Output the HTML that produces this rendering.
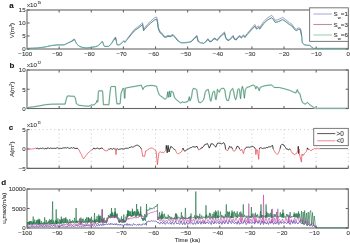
<!DOCTYPE html><html><head><meta charset="utf-8"><style>html,body{margin:0;padding:0;background:#fff;overflow:hidden;}svg{display:block;will-change:transform;} text{font-family:"Liberation Sans",sans-serif;stroke:#555;stroke-width:0.12px;paint-order:stroke;}</style></head><body>
<svg width="350" height="243" viewBox="0 0 350 243" xmlns="http://www.w3.org/2000/svg">
<rect x="27.0" y="10.0" width="321.30" height="39.00" fill="none" stroke="#666" stroke-width="1.1"/>
<line x1="59.13" y1="49.00" x2="59.13" y2="46.40" stroke="#666" stroke-width="1.1" />
<line x1="59.13" y1="10.00" x2="59.13" y2="12.60" stroke="#666" stroke-width="1.1" />
<line x1="91.26" y1="49.00" x2="91.26" y2="46.40" stroke="#666" stroke-width="1.1" />
<line x1="91.26" y1="10.00" x2="91.26" y2="12.60" stroke="#666" stroke-width="1.1" />
<line x1="123.39" y1="49.00" x2="123.39" y2="46.40" stroke="#666" stroke-width="1.1" />
<line x1="123.39" y1="10.00" x2="123.39" y2="12.60" stroke="#666" stroke-width="1.1" />
<line x1="155.52" y1="49.00" x2="155.52" y2="46.40" stroke="#666" stroke-width="1.1" />
<line x1="155.52" y1="10.00" x2="155.52" y2="12.60" stroke="#666" stroke-width="1.1" />
<line x1="187.65" y1="49.00" x2="187.65" y2="46.40" stroke="#666" stroke-width="1.1" />
<line x1="187.65" y1="10.00" x2="187.65" y2="12.60" stroke="#666" stroke-width="1.1" />
<line x1="219.78" y1="49.00" x2="219.78" y2="46.40" stroke="#666" stroke-width="1.1" />
<line x1="219.78" y1="10.00" x2="219.78" y2="12.60" stroke="#666" stroke-width="1.1" />
<line x1="251.91" y1="49.00" x2="251.91" y2="46.40" stroke="#666" stroke-width="1.1" />
<line x1="251.91" y1="10.00" x2="251.91" y2="12.60" stroke="#666" stroke-width="1.1" />
<line x1="284.04" y1="49.00" x2="284.04" y2="46.40" stroke="#666" stroke-width="1.1" />
<line x1="284.04" y1="10.00" x2="284.04" y2="12.60" stroke="#666" stroke-width="1.1" />
<line x1="316.17" y1="49.00" x2="316.17" y2="46.40" stroke="#666" stroke-width="1.1" />
<line x1="316.17" y1="10.00" x2="316.17" y2="12.60" stroke="#666" stroke-width="1.1" />
<polyline points="27.00,48.40 37.30,47.98 45.60,46.84 51.70,45.38 57.90,44.76 64.10,44.76 67.20,43.19 71.30,41.11 74.40,38.93 76.40,43.19 78.90,46.01 82.60,47.46 86.70,47.98 90.80,47.46 95.00,46.73 97.70,45.90 100.50,43.30 102.40,41.01 103.70,44.86 104.50,46.32 108.90,46.32 111.70,42.99 113.40,39.97 115.50,36.95 116.30,40.70 117.00,44.55 118.60,44.86 120.50,44.03 122.10,42.36 123.80,40.49 124.90,42.15 127.90,37.89 131.00,33.72 134.40,29.45 138.00,26.64 141.00,24.25 142.60,22.69 143.60,29.25 146.00,25.91 150.90,20.81 155.00,17.38 156.70,17.07 157.50,20.40 158.30,27.27 160.00,31.54 161.60,32.58 164.00,36.01 165.80,36.53 168.00,35.39 170.10,35.80 173.00,34.35 175.20,36.84 178.10,40.59 180.90,42.47 183.80,42.57 188.10,42.15 191.00,41.43 193.90,38.41 196.80,35.39 198.20,41.11 200.50,42.47 203.60,43.09 206.00,41.22 207.90,38.61 209.70,41.22 211.60,40.90 214.00,37.99 215.90,38.61 217.10,39.97 219.00,37.37 221.50,34.76 224.50,31.95 225.80,37.37 227.00,39.24 228.90,39.97 230.70,37.99 233.20,35.39 234.40,38.61 236.30,39.24 237.50,37.26 239.90,35.39 241.20,37.26 243.60,34.76 244.90,36.64 247.30,33.41 251.00,28.93 254.80,24.46 256.60,27.68 258.50,25.71 259.70,27.68 263.40,21.96 267.10,18.11 271.70,15.30 273.40,17.38 275.10,20.29 278.00,19.77 282.60,17.38 286.00,19.77 289.40,22.69 291.70,23.94 294.60,28.10 296.30,29.25 298.60,27.79 300.50,28.52 301.70,35.49 302.30,42.57 304.20,44.55 307.30,45.17 309.80,45.17 311.60,47.15 313.50,48.40 348.00,48.40" fill="none" stroke="#6870b8" stroke-width="0.65" stroke-linejoin="round"/>
<polyline points="27.00,48.40 37.30,48.02 45.60,46.96 51.70,45.61 57.90,45.03 64.10,45.03 67.20,43.59 71.30,41.67 74.40,39.65 76.40,43.59 78.90,46.19 82.60,47.53 86.70,48.02 90.80,47.53 95.00,46.86 97.70,46.09 100.50,43.69 102.40,41.57 103.70,45.13 104.50,46.48 108.90,46.48 111.70,43.40 113.40,40.61 115.50,37.82 116.30,41.28 117.00,44.84 118.60,45.13 120.50,44.36 122.10,42.82 123.80,41.09 124.90,42.63 127.90,38.69 131.00,34.84 134.40,30.90 138.00,28.30 141.00,26.09 142.60,24.65 143.60,30.71 146.00,27.63 150.90,22.92 155.00,19.75 156.70,19.46 157.50,22.53 158.30,28.88 160.00,32.82 161.60,33.78 164.00,36.96 165.80,37.44 168.00,36.38 170.10,36.77 173.00,35.42 175.20,37.73 178.10,41.19 180.90,42.92 183.80,43.02 188.10,42.63 191.00,41.96 193.90,39.17 196.80,36.38 198.20,41.67 200.50,42.92 203.60,43.50 206.00,41.77 207.90,39.36 209.70,41.77 211.60,41.48 214.00,38.78 215.90,39.36 217.10,40.61 219.00,38.21 221.50,35.80 224.50,33.21 225.80,38.21 227.00,39.94 228.90,40.61 230.70,38.78 233.20,36.38 234.40,39.36 236.30,39.94 237.50,38.11 239.90,36.38 241.20,38.11 243.60,35.80 244.90,37.53 247.30,34.55 251.00,30.42 254.80,26.28 256.60,29.27 258.50,27.44 259.70,29.27 263.40,23.98 267.10,20.42 271.70,17.82 273.40,19.75 275.10,22.44 278.00,21.96 282.60,19.75 286.00,21.96 289.40,24.65 291.70,25.80 294.60,29.65 296.30,30.71 298.60,29.36 300.50,30.03 301.70,36.48 302.30,43.02 304.20,44.84 307.30,45.42 309.80,45.42 311.60,47.25 313.50,48.40 348.00,48.40" fill="none" stroke="#58ac92" stroke-width="0.85" stroke-linejoin="round"/>
<polyline points="71.30,41.60 74.40,39.56" fill="none" stroke="#3a3a4a" stroke-opacity="0.75" stroke-width="0.45" stroke-linejoin="round"/>
<polyline points="113.40,40.53 115.50,37.71 116.30,41.21" fill="none" stroke="#3a3a4a" stroke-opacity="0.75" stroke-width="0.45" stroke-linejoin="round"/>
<polyline points="127.90,38.58 131.00,34.70 134.40,30.71 138.00,28.09 141.00,25.85 142.60,24.40 143.60,30.52 146.00,27.41 150.90,22.65 155.00,19.44 156.70,19.15 157.50,22.26 158.30,28.67 160.00,32.66 161.60,33.63 164.00,36.84 165.80,37.32 168.00,36.25 170.10,36.64 173.00,35.28 175.20,37.61 178.10,41.11" fill="none" stroke="#3a3a4a" stroke-opacity="0.75" stroke-width="0.45" stroke-linejoin="round"/>
<polyline points="191.00,41.89 193.90,39.07 196.80,36.25 198.20,41.60" fill="none" stroke="#3a3a4a" stroke-opacity="0.75" stroke-width="0.45" stroke-linejoin="round"/>
<polyline points="206.00,41.69 207.90,39.27 209.70,41.69 211.60,41.40 214.00,38.68 215.90,39.27 217.10,40.53 219.00,38.10 221.50,35.67 224.50,33.05 225.80,38.10 227.00,39.85 228.90,40.53 230.70,38.68 233.20,36.25 234.40,39.27 236.30,39.85 237.50,38.00 239.90,36.25 241.20,38.00 243.60,35.67 244.90,37.42 247.30,34.41 251.00,30.23 254.80,26.05 256.60,29.06 258.50,27.21 259.70,29.06 263.40,23.72 267.10,20.12 271.70,17.50 273.40,19.44 275.10,22.16 278.00,21.68 282.60,19.44 286.00,21.68 289.40,24.40 291.70,25.56 294.60,29.45 296.30,30.52 298.60,29.16 300.50,29.84 301.70,36.35" fill="none" stroke="#3a3a4a" stroke-opacity="0.75" stroke-width="0.45" stroke-linejoin="round"/>
<line x1="27.00" y1="49.00" x2="29.60" y2="49.00" stroke="#666" stroke-width="1.1" />
<line x1="348.30" y1="49.00" x2="345.70" y2="49.00" stroke="#666" stroke-width="1.1" />
<text x="25.60" y="51.45" font-size="6.1" text-anchor="end" fill="#3a3a3a">0</text>
<line x1="27.00" y1="36.00" x2="29.60" y2="36.00" stroke="#666" stroke-width="1.1" />
<line x1="348.30" y1="36.00" x2="345.70" y2="36.00" stroke="#666" stroke-width="1.1" />
<text x="25.60" y="38.45" font-size="6.1" text-anchor="end" fill="#3a3a3a">5</text>
<line x1="27.00" y1="23.00" x2="29.60" y2="23.00" stroke="#666" stroke-width="1.1" />
<line x1="348.30" y1="23.00" x2="345.70" y2="23.00" stroke="#666" stroke-width="1.1" />
<text x="25.60" y="25.45" font-size="6.1" text-anchor="end" fill="#3a3a3a">10</text>
<line x1="27.00" y1="10.00" x2="29.60" y2="10.00" stroke="#666" stroke-width="1.1" />
<line x1="348.30" y1="10.00" x2="345.70" y2="10.00" stroke="#666" stroke-width="1.1" />
<text x="25.60" y="12.45" font-size="6.1" text-anchor="end" fill="#3a3a3a">15</text>
<text x="27.00" y="56.00" font-size="6.1" text-anchor="middle" fill="#3a3a3a">100</text>
<text x="21.91" y="56.00" font-size="6.1" text-anchor="end" fill="#3a3a3a">−</text>
<text x="59.13" y="56.00" font-size="6.1" text-anchor="middle" fill="#3a3a3a">90</text>
<text x="55.74" y="56.00" font-size="6.1" text-anchor="end" fill="#3a3a3a">−</text>
<text x="91.26" y="56.00" font-size="6.1" text-anchor="middle" fill="#3a3a3a">80</text>
<text x="87.87" y="56.00" font-size="6.1" text-anchor="end" fill="#3a3a3a">−</text>
<text x="123.39" y="56.00" font-size="6.1" text-anchor="middle" fill="#3a3a3a">70</text>
<text x="120.00" y="56.00" font-size="6.1" text-anchor="end" fill="#3a3a3a">−</text>
<text x="155.52" y="56.00" font-size="6.1" text-anchor="middle" fill="#3a3a3a">60</text>
<text x="152.13" y="56.00" font-size="6.1" text-anchor="end" fill="#3a3a3a">−</text>
<text x="187.65" y="56.00" font-size="6.1" text-anchor="middle" fill="#3a3a3a">50</text>
<text x="184.26" y="56.00" font-size="6.1" text-anchor="end" fill="#3a3a3a">−</text>
<text x="219.78" y="56.00" font-size="6.1" text-anchor="middle" fill="#3a3a3a">40</text>
<text x="216.39" y="56.00" font-size="6.1" text-anchor="end" fill="#3a3a3a">−</text>
<text x="251.91" y="56.00" font-size="6.1" text-anchor="middle" fill="#3a3a3a">30</text>
<text x="248.52" y="56.00" font-size="6.1" text-anchor="end" fill="#3a3a3a">−</text>
<text x="286.04" y="56.00" font-size="6.1" text-anchor="middle" fill="#3a3a3a">20</text>
<text x="282.65" y="56.00" font-size="6.1" text-anchor="end" fill="#3a3a3a">−</text>
<text x="318.17" y="56.00" font-size="6.1" text-anchor="middle" fill="#3a3a3a">10</text>
<text x="314.78" y="56.00" font-size="6.1" text-anchor="end" fill="#3a3a3a">−</text>
<text x="348.30" y="56.00" font-size="6.1" text-anchor="middle" fill="#3a3a3a">0</text>
<text x="27.0" y="7.40" font-size="6.2" fill="#3a3a3a">x10<tspan dy="-3.2" dx="0.4" font-size="3.4">15</tspan></text>
<text x="9.2" y="7.5" font-size="8.0" font-weight="bold" fill="#111">a</text>
<text transform="translate(14.3,30.6) rotate(-90)" font-size="6.1" text-anchor="middle" fill="#3a3a3a">V(m<tspan dy="-2" font-size="3.8">3</tspan><tspan dy="2">)</tspan></text>
<rect x="309.6" y="7.8" width="38.7" height="33.6" fill="#fff" stroke="#7a7a7a" stroke-width="1.0"/>
<line x1="313.40" y1="14.00" x2="331.90" y2="14.00" stroke="#a9b0da" stroke-width="1.1" />
<text x="333.5" y="16.2" font-size="6.2" fill="#3a3a3a">S<tspan dy="2.4" font-size="4.2">w</tspan><tspan dy="-2.4" dx="0.2">=</tspan>1</text>
<line x1="313.40" y1="24.50" x2="331.90" y2="24.50" stroke="#b890a8" stroke-width="1.1" />
<text x="333.5" y="26.7" font-size="6.2" fill="#3a3a3a">S<tspan dy="2.4" font-size="4.2">w</tspan><tspan dy="-2.4" dx="0.2">=</tspan>3</text>
<line x1="313.40" y1="35.00" x2="331.90" y2="35.00" stroke="#9fd2ba" stroke-width="1.1" />
<text x="333.5" y="37.2" font-size="6.2" fill="#3a3a3a">S<tspan dy="2.4" font-size="4.2">w</tspan><tspan dy="-2.4" dx="0.2">=</tspan>6</text>
<rect x="27.0" y="70.0" width="321.30" height="38.50" fill="none" stroke="#666" stroke-width="1.1"/>
<line x1="59.13" y1="108.50" x2="59.13" y2="105.90" stroke="#666" stroke-width="1.1" />
<line x1="59.13" y1="70.00" x2="59.13" y2="72.60" stroke="#666" stroke-width="1.1" />
<line x1="91.26" y1="108.50" x2="91.26" y2="105.90" stroke="#666" stroke-width="1.1" />
<line x1="91.26" y1="70.00" x2="91.26" y2="72.60" stroke="#666" stroke-width="1.1" />
<line x1="123.39" y1="108.50" x2="123.39" y2="105.90" stroke="#666" stroke-width="1.1" />
<line x1="123.39" y1="70.00" x2="123.39" y2="72.60" stroke="#666" stroke-width="1.1" />
<line x1="155.52" y1="108.50" x2="155.52" y2="105.90" stroke="#666" stroke-width="1.1" />
<line x1="155.52" y1="70.00" x2="155.52" y2="72.60" stroke="#666" stroke-width="1.1" />
<line x1="187.65" y1="108.50" x2="187.65" y2="105.90" stroke="#666" stroke-width="1.1" />
<line x1="187.65" y1="70.00" x2="187.65" y2="72.60" stroke="#666" stroke-width="1.1" />
<line x1="219.78" y1="108.50" x2="219.78" y2="105.90" stroke="#666" stroke-width="1.1" />
<line x1="219.78" y1="70.00" x2="219.78" y2="72.60" stroke="#666" stroke-width="1.1" />
<line x1="251.91" y1="108.50" x2="251.91" y2="105.90" stroke="#666" stroke-width="1.1" />
<line x1="251.91" y1="70.00" x2="251.91" y2="72.60" stroke="#666" stroke-width="1.1" />
<line x1="284.04" y1="108.50" x2="284.04" y2="105.90" stroke="#666" stroke-width="1.1" />
<line x1="284.04" y1="70.00" x2="284.04" y2="72.60" stroke="#666" stroke-width="1.1" />
<line x1="316.17" y1="108.50" x2="316.17" y2="105.90" stroke="#666" stroke-width="1.1" />
<line x1="316.17" y1="70.00" x2="316.17" y2="72.60" stroke="#666" stroke-width="1.1" />
<polyline points="27.00,107.60 33.20,106.90 39.40,105.80 45.60,104.70 51.70,104.20 59.00,104.10 65.10,104.10 66.20,99.40 67.20,96.30 68.20,95.90 71.00,96.20 74.40,96.30 75.40,98.40 76.40,103.50 78.50,105.20 84.70,106.00 88.80,106.20 90.50,105.50 91.90,104.50 92.80,105.20 93.50,104.80 94.00,105.00 95.00,103.80 96.50,102.50 96.90,100.50 97.30,102.00 97.90,101.50 98.30,92.60 98.80,90.80 102.40,90.80 102.80,93.60 103.40,104.70 108.90,104.70 109.90,93.60 110.80,87.10 111.50,86.50 115.40,86.50 115.80,93.60 116.90,103.80 120.10,103.80 121.00,93.60 122.90,88.40 124.00,88.80 124.50,98.20 124.90,98.20 125.30,88.00 126.00,88.00 130.00,87.20 135.00,86.30 139.00,85.60 141.40,85.20 142.90,89.50 144.20,87.10 147.00,85.80 151.80,85.40 155.00,85.90 156.60,86.40 157.70,90.70 159.30,95.00 160.90,96.10 163.00,97.70 165.20,99.30 166.80,97.70 167.80,91.80 168.30,97.00 168.70,97.10 169.50,91.20 170.20,97.00 170.60,96.00 171.10,91.20 172.10,91.80 173.20,92.30 174.30,97.10 176.40,99.80 178.60,101.40 180.70,103.00 182.30,101.90 183.90,102.50 187.00,101.90 188.00,101.20 189.40,96.80 189.90,100.80 191.40,97.80 192.40,90.90 193.40,88.40 195.90,89.10 196.80,89.90 197.80,97.80 198.80,102.20 200.80,102.70 202.30,101.20 203.30,100.30 204.20,97.80 205.20,92.40 206.20,90.40 208.20,89.40 209.20,93.80 210.20,99.80 210.90,101.20 211.70,97.80 212.60,92.90 213.60,91.40 214.50,91.40 215.50,98.80 216.00,99.70 217.00,93.80 217.40,89.40 218.40,90.90 219.40,92.30 220.40,89.40 221.90,88.40 223.90,88.40 224.80,89.90 225.80,96.80 226.80,100.20 228.30,100.70 229.30,97.80 230.30,91.80 231.80,89.40 232.70,88.40 233.70,91.80 234.70,97.30 235.70,99.70 236.70,96.80 237.70,89.90 238.70,88.60 239.50,89.80 240.50,98.70 241.50,89.80 242.40,86.40 243.30,90.00 244.40,98.20 245.40,89.40 246.90,87.40 248.90,86.90 250.80,85.90 253.30,85.10 254.80,85.90 255.80,88.90 256.80,86.40 258.20,87.90 259.20,90.80 260.20,87.50 262.50,86.40 265.10,85.70 268.00,85.30 271.60,84.90 274.10,87.50 279.30,87.50 284.40,88.80 289.60,90.30 293.40,92.10 296.00,92.90 297.30,89.60 298.60,92.90 299.80,93.40 301.10,98.60 302.40,102.40 305.00,104.20 307.60,102.40 310.10,105.00 314.00,107.60 316.00,108.30 348.00,108.30" fill="none" stroke="#d2ede0" stroke-width="1.7" stroke-linejoin="round"/>
<polyline points="27.00,107.60 33.20,106.90 39.40,105.80 45.60,104.70 51.70,104.20 59.00,104.10 65.10,104.10 66.20,99.40 67.20,96.30 68.20,95.90 71.00,96.20 74.40,96.30 75.40,98.40 76.40,103.50 78.50,105.20 84.70,106.00 88.80,106.20 90.50,105.50 91.90,104.50 92.80,105.20 93.50,104.80 94.00,105.00 95.00,103.80 96.50,102.50 96.90,100.50 97.30,102.00 97.90,101.50 98.30,92.60 98.80,90.80 102.40,90.80 102.80,93.60 103.40,104.70 108.90,104.70 109.90,93.60 110.80,87.10 111.50,86.50 115.40,86.50 115.80,93.60 116.90,103.80 120.10,103.80 121.00,93.60 122.90,88.40 124.00,88.80 124.50,98.20 124.90,98.20 125.30,88.00 126.00,88.00 130.00,87.20 135.00,86.30 139.00,85.60 141.40,85.20 142.90,89.50 144.20,87.10 147.00,85.80 151.80,85.40 155.00,85.90 156.60,86.40 157.70,90.70 159.30,95.00 160.90,96.10 163.00,97.70 165.20,99.30 166.80,97.70 167.80,91.80 168.30,97.00 168.70,97.10 169.50,91.20 170.20,97.00 170.60,96.00 171.10,91.20 172.10,91.80 173.20,92.30 174.30,97.10 176.40,99.80 178.60,101.40 180.70,103.00 182.30,101.90 183.90,102.50 187.00,101.90 188.00,101.20 189.40,96.80 189.90,100.80 191.40,97.80 192.40,90.90 193.40,88.40 195.90,89.10 196.80,89.90 197.80,97.80 198.80,102.20 200.80,102.70 202.30,101.20 203.30,100.30 204.20,97.80 205.20,92.40 206.20,90.40 208.20,89.40 209.20,93.80 210.20,99.80 210.90,101.20 211.70,97.80 212.60,92.90 213.60,91.40 214.50,91.40 215.50,98.80 216.00,99.70 217.00,93.80 217.40,89.40 218.40,90.90 219.40,92.30 220.40,89.40 221.90,88.40 223.90,88.40 224.80,89.90 225.80,96.80 226.80,100.20 228.30,100.70 229.30,97.80 230.30,91.80 231.80,89.40 232.70,88.40 233.70,91.80 234.70,97.30 235.70,99.70 236.70,96.80 237.70,89.90 238.70,88.60 239.50,89.80 240.50,98.70 241.50,89.80 242.40,86.40 243.30,90.00 244.40,98.20 245.40,89.40 246.90,87.40 248.90,86.90 250.80,85.90 253.30,85.10 254.80,85.90 255.80,88.90 256.80,86.40 258.20,87.90 259.20,90.80 260.20,87.50 262.50,86.40 265.10,85.70 268.00,85.30 271.60,84.90 274.10,87.50 279.30,87.50 284.40,88.80 289.60,90.30 293.40,92.10 296.00,92.90 297.30,89.60 298.60,92.90 299.80,93.40 301.10,98.60 302.40,102.40 305.00,104.20 307.60,102.40 310.10,105.00 314.00,107.60 316.00,108.30 348.00,108.30" fill="none" stroke="#2c6e56" stroke-width="0.6" stroke-linejoin="round"/>
<line x1="27.00" y1="108.50" x2="29.60" y2="108.50" stroke="#666" stroke-width="1.1" />
<line x1="348.30" y1="108.50" x2="345.70" y2="108.50" stroke="#666" stroke-width="1.1" />
<text x="25.60" y="110.95" font-size="6.1" text-anchor="end" fill="#3a3a3a">0</text>
<line x1="27.00" y1="89.25" x2="29.60" y2="89.25" stroke="#666" stroke-width="1.1" />
<line x1="348.30" y1="89.25" x2="345.70" y2="89.25" stroke="#666" stroke-width="1.1" />
<text x="25.60" y="91.70" font-size="6.1" text-anchor="end" fill="#3a3a3a">5</text>
<line x1="27.00" y1="70.00" x2="29.60" y2="70.00" stroke="#666" stroke-width="1.1" />
<line x1="348.30" y1="70.00" x2="345.70" y2="70.00" stroke="#666" stroke-width="1.1" />
<text x="25.60" y="72.45" font-size="6.1" text-anchor="end" fill="#3a3a3a">10</text>
<text x="27.0" y="67.10" font-size="6.2" fill="#3a3a3a">x10<tspan dy="-3.2" dx="0.4" font-size="3.4">12</tspan></text>
<text x="9.5" y="67.8" font-size="8.0" font-weight="bold" fill="#111">b</text>
<text transform="translate(14.3,89.4) rotate(-90)" font-size="6.1" text-anchor="middle" fill="#3a3a3a">A(m<tspan dy="-2" font-size="3.8">2</tspan><tspan dy="2">)</tspan></text>
<line x1="59.13" y1="129.60" x2="59.13" y2="168.40" stroke="#a0a0a0" stroke-width="0.6" stroke-dasharray="1.0,2.9"/>
<line x1="91.26" y1="129.60" x2="91.26" y2="168.40" stroke="#a0a0a0" stroke-width="0.6" stroke-dasharray="1.0,2.9"/>
<line x1="123.39" y1="129.60" x2="123.39" y2="168.40" stroke="#a0a0a0" stroke-width="0.6" stroke-dasharray="1.0,2.9"/>
<line x1="155.52" y1="129.60" x2="155.52" y2="168.40" stroke="#a0a0a0" stroke-width="0.6" stroke-dasharray="1.0,2.9"/>
<line x1="187.65" y1="129.60" x2="187.65" y2="168.40" stroke="#a0a0a0" stroke-width="0.6" stroke-dasharray="1.0,2.9"/>
<line x1="219.78" y1="129.60" x2="219.78" y2="168.40" stroke="#a0a0a0" stroke-width="0.6" stroke-dasharray="1.0,2.9"/>
<line x1="251.91" y1="129.60" x2="251.91" y2="168.40" stroke="#a0a0a0" stroke-width="0.6" stroke-dasharray="1.0,2.9"/>
<line x1="284.04" y1="129.60" x2="284.04" y2="168.40" stroke="#a0a0a0" stroke-width="0.6" stroke-dasharray="1.0,2.9"/>
<line x1="316.17" y1="129.60" x2="316.17" y2="168.40" stroke="#a0a0a0" stroke-width="0.6" stroke-dasharray="1.0,2.9"/>
<line x1="348.30" y1="129.60" x2="348.30" y2="168.40" stroke="#a0a0a0" stroke-width="0.6" stroke-dasharray="1.0,2.9"/>
<line x1="27.00" y1="129.60" x2="348.30" y2="129.60" stroke="#a0a0a0" stroke-width="0.6" stroke-dasharray="1.0,2.9"/>
<line x1="27.00" y1="129.60" x2="27.00" y2="168.40" stroke="#666" stroke-width="1.1" />
<line x1="26.50" y1="168.40" x2="348.30" y2="168.40" stroke="#666" stroke-width="1.1" />
<line x1="59.13" y1="168.40" x2="59.13" y2="165.80" stroke="#666" stroke-width="1.1" />
<line x1="91.26" y1="168.40" x2="91.26" y2="165.80" stroke="#666" stroke-width="1.1" />
<line x1="123.39" y1="168.40" x2="123.39" y2="165.80" stroke="#666" stroke-width="1.1" />
<line x1="155.52" y1="168.40" x2="155.52" y2="165.80" stroke="#666" stroke-width="1.1" />
<line x1="187.65" y1="168.40" x2="187.65" y2="165.80" stroke="#666" stroke-width="1.1" />
<line x1="219.78" y1="168.40" x2="219.78" y2="165.80" stroke="#666" stroke-width="1.1" />
<line x1="251.91" y1="168.40" x2="251.91" y2="165.80" stroke="#666" stroke-width="1.1" />
<line x1="284.04" y1="168.40" x2="284.04" y2="165.80" stroke="#666" stroke-width="1.1" />
<line x1="316.17" y1="168.40" x2="316.17" y2="165.80" stroke="#666" stroke-width="1.1" />
<line x1="348.30" y1="168.40" x2="348.30" y2="165.80" stroke="#666" stroke-width="1.1" />
<line x1="27.00" y1="168.40" x2="29.60" y2="168.40" stroke="#666" stroke-width="1.1" />
<text x="25.60" y="170.85" font-size="6.1" text-anchor="end" fill="#3a3a3a">−5</text>
<line x1="27.00" y1="149.00" x2="29.60" y2="149.00" stroke="#666" stroke-width="1.1" />
<text x="25.60" y="151.45" font-size="6.1" text-anchor="end" fill="#3a3a3a">0</text>
<line x1="27.00" y1="129.60" x2="29.60" y2="129.60" stroke="#666" stroke-width="1.1" />
<text x="25.60" y="132.05" font-size="6.1" text-anchor="end" fill="#3a3a3a">5</text>
<text x="27.0" y="127.00" font-size="6.2" fill="#3a3a3a">x10<tspan dy="-3.2" dx="0.4" font-size="3.4">11</tspan></text>
<text x="8.8" y="129.9" font-size="8.0" font-weight="bold" fill="#111">c</text>
<text transform="translate(14.3,149.2) rotate(-90)" font-size="6.1" text-anchor="middle" fill="#3a3a3a">A(m<tspan dy="-2" font-size="3.8">2</tspan><tspan dy="2">)</tspan></text>
<polyline points="27.00,148.60 27.75,148.32 28.50,148.70 29.25,149.10 30.00,148.90 30.75,149.06 31.50,149.03 32.25,148.68 33.00,148.70 33.75,148.95 34.50,148.63 35.25,148.13 36.00,148.50" fill="none" stroke="#e8505c" stroke-width="0.8" stroke-linejoin="round"/>
<polyline points="36.00,148.50 36.80,148.56 37.60,148.05 38.40,148.94 39.20,148.85 40.00,148.30 40.71,148.32 41.43,148.61 42.14,148.13 42.86,148.19 43.57,148.33 44.29,148.87 45.00,148.70 45.71,148.28 46.43,149.12 47.14,147.97 47.86,148.05 48.57,147.85 49.29,148.60 50.00,148.20 50.71,148.10 51.43,148.28 52.14,148.16 52.86,148.59 53.57,148.37 54.29,148.19 55.00,148.60 55.75,148.37 56.50,148.07 57.25,147.68 58.00,148.00 58.80,148.43 59.60,148.30 60.40,148.32 61.20,148.62 62.00,148.20 62.80,147.99 63.60,147.90 64.40,147.87 65.20,147.77 66.00,147.80 66.80,148.10 67.60,147.41 68.40,148.06 69.20,148.24 70.00,148.30 70.80,148.05 71.60,147.61 72.40,148.37 73.20,147.47 74.00,148.00 75.00,148.33 76.00,148.50 77.00,148.18 78.00,148.70" fill="none" stroke="#111111" stroke-width="0.8" stroke-linejoin="round"/>
<polyline points="78.00,148.70 79.00,150.00 80.00,152.00 80.70,153.50 81.40,154.43 82.10,156.35 82.80,157.63 83.50,158.90 84.33,157.65 85.17,156.75 86.00,155.50 86.75,154.69 87.50,153.29 88.25,152.91 89.00,152.00 89.75,151.49 90.50,150.77 91.25,150.50 92.00,149.50 92.80,149.40" fill="none" stroke="#e8505c" stroke-width="0.8" stroke-linejoin="round"/>
<polyline points="92.80,149.40 93.70,148.10 95.00,148.60 95.80,149.01 96.60,148.21 97.40,148.10 98.27,148.60 99.13,148.85 100.00,148.80 101.00,148.11 102.00,148.10 103.00,148.60" fill="none" stroke="#111111" stroke-width="0.8" stroke-linejoin="round"/>
<polyline points="103.00,148.60 104.00,150.01 105.00,150.50 105.87,150.91 106.73,150.80 107.60,150.60 108.50,149.00" fill="none" stroke="#e8505c" stroke-width="0.8" stroke-linejoin="round"/>
<polyline points="108.50,149.00 109.33,149.32 110.17,148.55 111.00,148.60 111.80,148.97 112.60,149.18 113.40,148.43 114.20,149.00 115.00,148.70 115.60,149.00" fill="none" stroke="#111111" stroke-width="0.8" stroke-linejoin="round"/>
<polyline points="115.60,149.00 116.00,154.60 116.50,149.00" fill="none" stroke="#e8505c" stroke-width="0.8" stroke-linejoin="round"/>
<polyline points="116.50,149.00 117.20,148.70 117.90,149.10 118.60,149.57 119.30,149.19 120.00,149.00 120.80,148.98 121.60,148.77 122.40,149.00 123.12,148.43 123.84,149.32 124.56,148.89 125.28,148.14 126.00,148.30 126.80,148.27 127.60,148.27 128.40,148.37 129.20,147.48 130.00,147.60 130.73,147.16 131.47,146.79 132.20,147.06 132.93,147.24 133.67,146.80 134.40,146.30 135.14,145.69 135.88,145.79 136.62,145.25 137.36,145.17 138.10,145.40 138.80,146.07 139.50,146.33 140.20,147.15 140.90,148.10 141.50,149.00" fill="none" stroke="#111111" stroke-width="0.8" stroke-linejoin="round"/>
<polyline points="141.50,149.00 142.80,156.50 143.70,156.13 144.60,156.50 145.60,151.00 146.38,150.84 147.15,150.43 147.92,149.46 148.70,149.10 149.44,148.68 150.18,148.40 150.92,148.08 151.66,148.01 152.40,148.10 153.35,148.55 154.30,149.60 155.20,150.60 156.10,150.90 157.40,164.80 158.15,158.49 158.90,152.80 159.80,152.04 160.70,151.90 161.40,152.55 162.10,152.77 162.80,152.18 163.50,152.80 164.45,151.67 165.40,150.90 166.00,149.00" fill="none" stroke="#e8505c" stroke-width="0.8" stroke-linejoin="round"/>
<polyline points="166.00,149.00 166.30,145.40 167.20,152.80 168.10,145.40 169.00,152.00 169.95,148.89 170.90,146.30 171.85,147.15 172.80,148.10 173.70,148.86 174.60,149.50 175.50,150.00" fill="none" stroke="#111111" stroke-width="0.8" stroke-linejoin="round"/>
<polyline points="175.50,150.00 176.50,152.80 177.40,153.68 178.30,153.70 179.25,153.14 180.20,152.80 181.10,152.17 182.00,150.90 182.60,149.00" fill="none" stroke="#e8505c" stroke-width="0.8" stroke-linejoin="round"/>
<polyline points="182.60,149.00 183.00,148.10 184.00,150.50 184.85,151.09 185.70,150.90 186.65,149.66 187.60,149.10 188.50,149.13 189.40,148.10 190.14,147.85 190.88,147.50 191.62,147.52 192.36,146.74 193.10,146.90 194.05,146.73 195.00,147.30 195.95,146.71 196.90,146.30 198.00,148.50" fill="none" stroke="#111111" stroke-width="0.8" stroke-linejoin="round"/>
<polyline points="198.00,148.50 198.70,150.00 200.00,149.10 200.60,149.10" fill="none" stroke="#e8505c" stroke-width="0.8" stroke-linejoin="round"/>
<polyline points="200.60,149.10 201.33,147.80 202.07,148.07 202.80,146.90 203.73,146.33 204.67,144.65 205.60,144.40 206.50,144.01 207.40,143.50 208.35,145.49 209.30,148.10 210.20,146.26 211.10,143.50 211.90,144.22 212.70,143.86 213.50,144.40 214.23,145.45 214.97,146.26 215.70,147.20 216.65,144.89 217.60,143.10 218.40,143.15 219.20,143.24 220.00,143.50 220.82,143.38 221.64,143.88 222.46,143.54 223.28,142.63 224.10,143.10 225.00,145.00 225.50,149.00" fill="none" stroke="#111111" stroke-width="0.8" stroke-linejoin="round"/>
<polyline points="225.50,149.00 225.90,150.00 226.85,150.04 227.80,150.60 228.50,149.00" fill="none" stroke="#e8505c" stroke-width="0.8" stroke-linejoin="round"/>
<polyline points="228.50,149.00 229.60,146.30 230.55,147.08 231.50,146.90 232.50,149.00" fill="none" stroke="#111111" stroke-width="0.8" stroke-linejoin="round"/>
<polyline points="232.50,149.00 233.30,150.90 234.25,151.07 235.20,150.60 236.00,149.00" fill="none" stroke="#e8505c" stroke-width="0.8" stroke-linejoin="round"/>
<polyline points="236.00,149.00 237.00,146.30 237.95,146.44 238.90,147.20 239.60,149.00" fill="none" stroke="#111111" stroke-width="0.8" stroke-linejoin="round"/>
<polyline points="239.60,149.00 240.60,150.80 241.70,149.10 242.60,151.61 243.50,153.70 244.50,149.00" fill="none" stroke="#e8505c" stroke-width="0.8" stroke-linejoin="round"/>
<polyline points="244.50,149.00 245.40,148.61 246.30,147.20 247.04,146.76 247.78,147.42 248.52,147.07 249.26,147.53 250.00,146.90 250.74,146.96 251.48,146.82 252.22,146.40 252.96,146.81 253.70,146.90 255.00,148.10 255.40,149.00" fill="none" stroke="#111111" stroke-width="0.8" stroke-linejoin="round"/>
<polyline points="255.40,149.00 255.90,154.60 256.50,149.50 257.50,150.00 258.70,159.30 259.30,149.00" fill="none" stroke="#e8505c" stroke-width="0.8" stroke-linejoin="round"/>
<polyline points="259.30,149.00 259.60,148.10 260.33,147.60 261.07,148.20 261.80,147.98 262.53,148.60 263.27,148.24 264.00,148.10 264.80,147.95 265.60,148.27 266.40,147.30 267.20,147.80 268.00,147.20 268.77,146.81 269.53,146.81 270.30,146.86 271.07,146.37 271.83,145.83 272.60,145.40 273.20,149.00" fill="none" stroke="#111111" stroke-width="0.8" stroke-linejoin="round"/>
<polyline points="273.20,149.00 273.93,150.28 274.67,151.63 275.40,152.80 276.30,153.50 277.20,154.60 278.10,153.68 279.00,151.90 280.00,149.00" fill="none" stroke="#e8505c" stroke-width="0.8" stroke-linejoin="round"/>
<polyline points="280.00,149.00 280.90,145.40 281.85,144.36 282.80,144.40 283.70,144.85 284.60,146.30 285.55,147.59 286.50,149.10 287.33,148.80 288.17,149.91 289.00,149.60 289.75,148.90 290.50,149.30" fill="none" stroke="#111111" stroke-width="0.8" stroke-linejoin="round"/>
<polyline points="290.50,149.30 291.25,151.51 292.00,152.80 292.70,153.30 293.40,153.38 294.10,154.62 294.80,154.60 295.53,153.98 296.27,153.82 297.00,153.00 298.00,149.00" fill="none" stroke="#e8505c" stroke-width="0.8" stroke-linejoin="round"/>
<polyline points="298.00,149.00 298.30,146.30 298.60,153.50 299.00,149.00" fill="none" stroke="#111111" stroke-width="0.8" stroke-linejoin="round"/>
<polyline points="299.00,149.00 299.40,153.70 300.00,156.40 301.40,162.10 302.00,154.00 303.10,155.60 304.30,153.60 305.35,152.57 306.40,151.40 307.20,149.00" fill="none" stroke="#e8505c" stroke-width="0.8" stroke-linejoin="round"/>
<polyline points="307.20,149.00 307.40,147.90 308.20,149.50 308.60,149.00" fill="none" stroke="#111111" stroke-width="0.8" stroke-linejoin="round"/>
<polyline points="308.60,149.00 309.30,149.30 310.70,150.70 311.43,150.67 312.17,149.50 312.90,149.30 313.60,149.14 314.30,148.58 315.00,148.30 315.70,148.60 316.42,148.25 317.13,148.74 317.85,148.35 318.57,148.77 319.28,148.81 320.00,148.60" fill="none" stroke="#e8505c" stroke-width="0.8" stroke-linejoin="round"/>
<polyline points="320.00,148.60 348.00,148.60" fill="none" stroke="#555555" stroke-width="0.8" stroke-linejoin="round"/>
<rect x="313.7" y="128.4" width="34.6" height="17.2" fill="#fff" stroke="#7a7a7a" stroke-width="1.0"/>
<line x1="317.20" y1="133.60" x2="335.30" y2="133.60" stroke="#555" stroke-width="1.0" />
<text x="336.6" y="135.9" font-size="6.4" fill="#3a3a3a">&gt;0</text>
<line x1="317.20" y1="140.80" x2="335.30" y2="140.80" stroke="#ec8a96" stroke-width="1.0" />
<text x="336.6" y="143.1" font-size="6.4" fill="#3a3a3a">&lt;0</text>
<rect x="27.0" y="189.0" width="321.30" height="39.00" fill="none" stroke="#666" stroke-width="1.1"/>
<line x1="59.13" y1="228.00" x2="59.13" y2="225.40" stroke="#666" stroke-width="1.1" />
<line x1="59.13" y1="189.00" x2="59.13" y2="191.60" stroke="#666" stroke-width="1.1" />
<line x1="91.26" y1="228.00" x2="91.26" y2="225.40" stroke="#666" stroke-width="1.1" />
<line x1="91.26" y1="189.00" x2="91.26" y2="191.60" stroke="#666" stroke-width="1.1" />
<line x1="123.39" y1="228.00" x2="123.39" y2="225.40" stroke="#666" stroke-width="1.1" />
<line x1="123.39" y1="189.00" x2="123.39" y2="191.60" stroke="#666" stroke-width="1.1" />
<line x1="155.52" y1="228.00" x2="155.52" y2="225.40" stroke="#666" stroke-width="1.1" />
<line x1="155.52" y1="189.00" x2="155.52" y2="191.60" stroke="#666" stroke-width="1.1" />
<line x1="187.65" y1="228.00" x2="187.65" y2="225.40" stroke="#666" stroke-width="1.1" />
<line x1="187.65" y1="189.00" x2="187.65" y2="191.60" stroke="#666" stroke-width="1.1" />
<line x1="219.78" y1="228.00" x2="219.78" y2="225.40" stroke="#666" stroke-width="1.1" />
<line x1="219.78" y1="189.00" x2="219.78" y2="191.60" stroke="#666" stroke-width="1.1" />
<line x1="251.91" y1="228.00" x2="251.91" y2="225.40" stroke="#666" stroke-width="1.1" />
<line x1="251.91" y1="189.00" x2="251.91" y2="191.60" stroke="#666" stroke-width="1.1" />
<line x1="284.04" y1="228.00" x2="284.04" y2="225.40" stroke="#666" stroke-width="1.1" />
<line x1="284.04" y1="189.00" x2="284.04" y2="191.60" stroke="#666" stroke-width="1.1" />
<line x1="316.17" y1="228.00" x2="316.17" y2="225.40" stroke="#666" stroke-width="1.1" />
<line x1="316.17" y1="189.00" x2="316.17" y2="191.60" stroke="#666" stroke-width="1.1" />
<line x1="27.00" y1="228.00" x2="29.60" y2="228.00" stroke="#666" stroke-width="1.1" />
<line x1="348.30" y1="228.00" x2="345.70" y2="228.00" stroke="#666" stroke-width="1.1" />
<text x="25.60" y="230.45" font-size="6.1" text-anchor="end" fill="#3a3a3a">0</text>
<line x1="27.00" y1="208.50" x2="29.60" y2="208.50" stroke="#666" stroke-width="1.1" />
<line x1="348.30" y1="208.50" x2="345.70" y2="208.50" stroke="#666" stroke-width="1.1" />
<text x="25.60" y="210.95" font-size="6.1" text-anchor="end" fill="#3a3a3a">5000</text>
<line x1="27.00" y1="189.00" x2="29.60" y2="189.00" stroke="#666" stroke-width="1.1" />
<line x1="348.30" y1="189.00" x2="345.70" y2="189.00" stroke="#666" stroke-width="1.1" />
<text x="25.60" y="191.45" font-size="6.1" text-anchor="end" fill="#3a3a3a">10000</text>
<text x="27.00" y="235.00" font-size="6.1" text-anchor="middle" fill="#3a3a3a">100</text>
<text x="21.91" y="235.00" font-size="6.1" text-anchor="end" fill="#3a3a3a">−</text>
<text x="59.13" y="235.00" font-size="6.1" text-anchor="middle" fill="#3a3a3a">90</text>
<text x="55.74" y="235.00" font-size="6.1" text-anchor="end" fill="#3a3a3a">−</text>
<text x="91.26" y="235.00" font-size="6.1" text-anchor="middle" fill="#3a3a3a">80</text>
<text x="87.87" y="235.00" font-size="6.1" text-anchor="end" fill="#3a3a3a">−</text>
<text x="123.39" y="235.00" font-size="6.1" text-anchor="middle" fill="#3a3a3a">70</text>
<text x="120.00" y="235.00" font-size="6.1" text-anchor="end" fill="#3a3a3a">−</text>
<text x="155.52" y="235.00" font-size="6.1" text-anchor="middle" fill="#3a3a3a">60</text>
<text x="152.13" y="235.00" font-size="6.1" text-anchor="end" fill="#3a3a3a">−</text>
<text x="187.65" y="235.00" font-size="6.1" text-anchor="middle" fill="#3a3a3a">50</text>
<text x="184.26" y="235.00" font-size="6.1" text-anchor="end" fill="#3a3a3a">−</text>
<text x="219.78" y="235.00" font-size="6.1" text-anchor="middle" fill="#3a3a3a">40</text>
<text x="216.39" y="235.00" font-size="6.1" text-anchor="end" fill="#3a3a3a">−</text>
<text x="251.91" y="235.00" font-size="6.1" text-anchor="middle" fill="#3a3a3a">30</text>
<text x="248.52" y="235.00" font-size="6.1" text-anchor="end" fill="#3a3a3a">−</text>
<text x="284.04" y="235.00" font-size="6.1" text-anchor="middle" fill="#3a3a3a">20</text>
<text x="280.65" y="235.00" font-size="6.1" text-anchor="end" fill="#3a3a3a">−</text>
<text x="316.17" y="235.00" font-size="6.1" text-anchor="middle" fill="#3a3a3a">10</text>
<text x="312.78" y="235.00" font-size="6.1" text-anchor="end" fill="#3a3a3a">−</text>
<text x="348.30" y="235.00" font-size="6.1" text-anchor="middle" fill="#3a3a3a">0</text>
<text x="1.2" y="184.6" font-size="8.0" font-weight="bold" fill="#111">d</text>
<text transform="translate(5.5,208.3) rotate(-90)" font-size="6.1" text-anchor="middle" fill="#3a3a3a">u<tspan dy="1.6" font-size="3.9">s</tspan><tspan dy="-1.6">max(m/a)</tspan></text>
<text x="187.5" y="241.8" font-size="6.1" text-anchor="middle" fill="#3a3a3a">Time (ka)</text>
<polyline points="27.20,227.00 27.50,226.64 28.27,227.14 29.38,226.45 30.15,227.21 31.30,226.41 32.44,226.91 33.23,225.86 34.19,227.05 35.49,226.43 36.20,226.69 37.15,226.27 38.04,227.03 39.32,226.22 40.15,226.86 41.18,225.20 42.38,226.97 43.20,225.33 44.50,227.15 45.64,225.26 46.73,227.00 47.90,225.42 48.72,226.71 49.55,226.32 50.45,226.88 51.39,225.49 52.59,226.47 53.88,224.99 55.05,226.84 55.86,225.46 56.89,226.59 57.64,226.02 58.90,226.61 60.01,226.12 60.95,226.39 62.04,224.90 62.86,226.65 64.04,225.60 65.21,226.55 65.98,226.04 67.27,226.79 68.09,225.70 69.22,226.32 70.20,225.46 71.38,226.64 72.30,225.28 73.38,226.76 74.15,225.88 75.28,226.34 76.57,225.02 77.42,226.27 78.71,225.55 79.42,226.48 80.29,225.76 81.02,226.61 82.23,225.90 83.30,226.53 84.12,224.86 85.00,226.52 85.97,225.01 86.99,226.09 87.93,225.21 89.06,226.30 90.19,225.25 90.97,226.48 92.14,224.87 93.40,226.11 94.45,225.59 95.66,226.36 96.62,225.38 97.55,226.04 98.50,224.24 99.53,225.87 100.69,223.85 101.89,225.75 102.96,223.32 103.81,225.40 105.00,223.95 105.94,224.69 106.87,223.99 107.70,224.83 108.82,223.53 109.98,224.95 110.83,223.11 111.82,224.63 113.08,223.67 113.89,224.97 114.88,223.64 115.86,225.00 116.56,223.51 117.72,225.25 118.97,224.17 119.91,225.39 120.75,224.07 121.96,225.52 122.85,224.86 123.89,225.76 124.82,224.05 126.08,225.33 127.09,223.43 127.98,225.52 129.08,223.90 129.92,225.46 131.11,224.39 132.24,225.71 133.51,223.52 134.40,224.89 135.58,224.59 136.43,225.26 137.73,224.39 138.46,225.37 139.18,223.85 140.21,225.22 140.99,224.53 142.17,225.18 143.16,223.60 144.27,224.73 145.47,223.05 146.37,225.33 146.80,221.40 147.71,221.82 148.96,220.89 150.12,221.80 151.17,220.44 152.23,221.32 153.47,220.80 154.27,221.30 155.14,221.07 156.30,221.17 157.90,223.00 158.20,222.25 159.71,224.12 160.93,222.05 162.64,223.98 163.79,221.99 165.28,224.39 167.06,222.14 168.41,223.87 169.92,222.50 171.17,224.33 172.21,221.89 173.80,224.37 175.48,221.22 176.92,224.05 178.01,222.81 179.80,224.47 180.97,221.15 182.57,224.62 183.83,222.35 185.04,224.74 186.46,222.18 187.78,224.50 188.87,222.67 190.57,223.80 192.01,222.44 193.13,224.52 194.39,222.53 195.61,224.40 196.76,221.28 198.13,224.04 199.41,221.46 201.04,224.22 202.10,221.56 203.40,223.64 204.49,220.74 205.50,223.93 206.86,221.88 208.57,223.73 209.70,221.50 211.19,224.56 212.26,221.27 213.84,224.02 215.18,221.45 216.39,223.50 218.16,221.49 219.17,224.10 220.82,221.81 221.90,224.37 223.47,221.18 224.70,223.81 226.31,220.44 227.97,224.05 229.62,220.51 231.32,223.64 232.78,221.38 234.46,223.80 236.04,221.97 237.12,224.25 238.58,221.22 239.74,224.36 241.50,222.29 243.24,223.60 244.70,220.29 246.24,224.59 248.00,221.53 249.73,223.54 250.84,222.34 251.86,223.58 253.49,221.92 254.58,224.12 256.22,220.79 257.91,223.33 259.52,220.56 260.53,224.59 262.22,221.03 263.48,224.43 264.75,221.64 266.14,224.00 267.31,222.20 268.47,224.43 269.55,221.45 270.65,223.53 272.09,221.34 273.60,224.29 274.62,222.19 275.89,224.11 277.09,221.67 278.76,224.59 280.12,221.49 281.34,223.62 282.52,222.25 283.65,223.27 284.93,222.07 286.70,223.72 288.47,221.58 290.12,224.54 291.31,220.51 292.72,223.52 294.03,220.31 295.09,223.74 296.24,221.85 297.95,224.01 299.60,221.65 301.18,223.59 302.68,222.44 304.22,224.15 305.86,222.87 307.18,225.66 308.79,224.13 309.97,226.19 311.10,224.37 312.48,226.48 313.82,224.62 314.90,226.92 316.50,227.80" fill="none" stroke="#3c3ca0" stroke-width="0.65" stroke-linejoin="round"/>
<polyline points="27.20,226.50 27.50,222.16 27.97,224.05 28.41,221.91 28.88,224.77 29.34,221.40 29.15,224.80 29.60,221.60 30.05,224.48 29.88,224.84 30.42,221.09 30.73,223.91 31.32,221.22 31.80,224.73 32.11,221.69 32.43,224.68 32.80,223.49 32.75,224.19 33.20,216.60 33.65,223.59 33.24,224.32 33.73,221.74 34.23,224.36 34.61,219.63 35.21,223.93 35.72,222.39 36.09,224.48 36.41,220.53 36.83,223.88 37.25,219.67 37.80,224.75 38.17,219.83 38.61,223.69 38.55,224.61 39.00,218.70 39.45,223.78 39.03,220.36 39.41,224.62 39.81,219.52 40.34,224.56 40.71,223.02 41.03,223.82 41.38,221.19 41.82,224.45 42.33,222.86 42.83,224.50 43.25,222.52 43.64,223.55 44.18,222.13 44.25,224.27 44.70,217.30 45.15,224.00 44.74,223.65 45.23,222.87 45.83,224.33 46.21,220.06 46.61,224.22 46.93,222.86 47.40,224.25 47.88,221.72 48.32,223.43 48.77,220.82 49.33,224.27 49.67,219.29 50.22,224.18 50.57,220.01 51.16,224.21 51.74,219.31 52.22,223.93 52.55,222.86 52.15,224.05 52.60,201.50 53.05,223.35 53.14,224.10 53.69,220.52 54.08,224.17 54.59,222.70 54.96,223.70 55.52,220.37 55.90,223.27 55.75,224.29 56.20,209.40 56.65,223.91 56.26,221.09 56.58,224.11 56.99,220.50 57.33,223.82 57.90,218.38 58.40,223.25 58.87,221.99 59.18,223.92 59.75,219.31 60.34,223.77 60.83,220.26 60.85,223.30 61.30,216.60 61.75,222.28 61.35,223.69 61.82,219.02 62.39,222.87 62.90,218.72 63.47,223.32 63.98,218.15 64.54,223.23 65.08,218.30 65.55,222.95 65.35,222.84 65.80,217.30 66.25,222.80 65.96,221.89 66.46,222.49 67.02,218.90 67.44,222.79 67.91,220.26 68.46,223.58 68.99,222.02 69.47,223.07 69.84,218.96 70.28,222.89 70.86,221.04 71.16,223.26 71.67,221.26 72.02,222.49 72.52,220.13 73.08,223.20 73.58,221.23 74.01,222.58 74.59,217.88 75.00,222.85 75.40,221.46 75.85,222.51 75.65,222.50 76.10,208.00 76.55,222.14 76.40,220.81 76.75,222.99 77.13,221.08 77.56,222.75 78.01,220.59 78.56,222.27 78.99,221.64 79.30,222.40 79.62,218.60 80.09,223.11 80.63,221.83 80.45,222.82 80.90,217.50 81.35,223.46 80.97,222.43 81.34,221.31 81.65,222.67 82.09,218.92 82.58,222.43 83.17,218.61 83.53,222.84 83.88,221.79 84.32,222.52 84.68,220.63 85.08,222.52 85.54,218.90 86.06,222.91 86.60,217.32 86.93,222.18 87.45,221.22 87.88,222.57 87.55,222.83 88.00,217.50 88.45,222.55 88.45,217.40 88.99,222.13 89.43,218.59 89.79,222.41 90.34,218.61 90.85,223.07 91.42,216.74 92.02,222.62 92.56,220.20 93.13,222.17 93.53,221.30 93.96,222.57 94.50,219.30 94.05,222.09 94.50,213.00 94.95,223.21 94.80,222.22 95.16,220.04 95.69,223.06 96.04,218.92 96.55,222.00 97.06,216.21 97.51,221.74 97.83,220.19 98.29,222.66 98.35,222.11 98.80,214.50 99.25,222.29 98.81,216.34 99.28,222.56 99.69,216.10 100.26,222.69 100.82,215.71 101.28,222.26 101.64,218.66 102.09,222.32 101.75,221.70 102.20,209.40 102.65,222.38 102.40,219.67 102.94,222.49 103.38,218.65 103.70,222.62 104.13,217.71 104.70,223.02 105.15,221.45 105.58,222.44 106.15,219.98 106.54,223.24 107.03,217.76 107.37,221.21 107.67,218.71 108.04,218.81 108.44,215.05 108.92,217.86 109.44,215.87 109.90,217.67 110.25,213.88 110.69,217.50 111.11,213.86 111.46,217.73 111.05,217.04 111.50,208.00 111.95,217.21 111.95,212.11 112.43,216.85 112.80,212.67 113.34,216.78 113.74,214.87 114.32,217.70 114.91,211.76 114.65,217.64 115.10,208.00 115.55,216.91 115.25,217.64 115.58,212.03 116.01,216.90 116.35,214.34 116.85,217.98 117.21,213.52 117.79,219.27 118.12,217.51 118.65,222.30 119.16,220.41 119.48,222.85 119.79,218.52 120.24,222.20 120.59,220.43 120.95,221.82 121.54,216.42 121.87,222.91 122.46,219.00 122.99,222.54 123.43,218.72 123.35,222.10 123.80,214.50 124.25,222.98 123.86,222.02 124.41,220.45 124.85,221.96 125.27,220.38 125.62,222.28 125.92,216.61 126.46,220.30 127.02,214.11 127.44,216.81 127.89,210.05 127.65,217.07 128.10,210.80 128.55,216.09 128.44,216.31 128.97,210.95 129.39,216.00 129.95,211.57 130.48,216.10 130.91,211.28 131.23,216.70 131.67,215.22 132.07,216.17 131.95,216.79 132.40,208.70 132.85,215.72 132.56,211.43 132.96,216.06 133.43,212.15 133.85,215.45 134.34,211.00 134.87,215.40 135.18,211.46 135.70,216.49 136.12,214.68 136.48,216.25 136.15,216.45 136.60,204.00 137.05,215.47 136.81,211.82 137.26,215.27 137.73,209.03 138.22,215.46 138.55,211.49 139.07,216.57 139.65,213.94 140.09,216.31 140.54,211.36 140.25,215.10 140.70,206.50 141.15,215.89 140.86,215.72 141.34,214.38 141.73,218.83 142.19,217.94 142.71,220.59 143.01,218.13 143.33,220.78 143.85,217.39 144.42,219.95 144.74,214.06 145.32,220.90 145.89,215.79 146.33,216.97 146.05,217.21 146.50,204.00 146.95,216.59 146.71,211.83 146.80,211.00 146.80,209.52 147.66,210.56 148.32,209.80 149.07,210.37 149.99,207.64 150.83,209.40 151.70,208.09 152.48,209.17 153.44,207.56 154.37,208.53 155.24,206.12 156.00,207.01 156.61,206.23 157.40,204.00 157.80,220.00 158.20,216.74 158.87,218.06 159.15,218.84 159.60,212.20 160.05,218.77 159.61,217.36 160.10,218.12 160.56,215.64 161.04,218.81 161.61,213.79 161.65,219.27 162.10,211.40 162.55,218.88 162.26,219.11 163.01,214.33 163.73,218.37 164.43,213.70 165.14,219.19 165.88,216.65 166.59,218.80 167.16,217.20 167.73,219.08 168.18,214.66 168.90,218.25 169.57,216.22 170.27,219.26 170.94,216.76 171.41,219.16 172.02,217.56 172.61,218.65 173.16,217.93 173.76,219.09 174.25,217.72 174.80,219.27 175.46,213.54 176.02,218.46 175.75,219.28 176.20,213.50 176.65,219.13 176.79,214.53 177.53,218.53 177.99,216.76 178.74,218.21 179.46,217.60 180.20,218.82 180.89,217.78 180.95,218.36 181.40,212.20 181.85,218.18 181.68,219.00 182.32,215.79 182.96,218.79 183.65,216.98 184.17,219.02 184.84,217.77 185.33,219.12 184.95,218.37 185.40,207.90 185.85,218.39 185.99,217.90 186.56,218.76 187.00,217.92 187.80,219.02 188.32,217.19 188.96,219.06 189.55,216.75 190.28,219.13 190.82,216.07 190.55,218.35 191.00,213.50 191.45,218.42 191.60,218.27 192.12,217.81 192.72,217.94 193.42,217.14 194.09,217.99 194.60,215.48 195.14,218.76 195.65,217.30 195.35,219.00 195.80,191.50 196.25,218.46 196.19,218.94 196.90,215.35 197.30,218.04 197.77,216.01 198.40,218.59 198.91,216.23 199.37,217.89 199.81,213.82 200.30,218.60 200.85,217.64 201.31,218.49 201.25,217.63 201.70,215.50 202.15,217.46 201.88,217.58 202.50,218.75 203.22,216.62 203.97,218.15 204.43,217.54 204.92,217.69 205.38,215.76 205.93,218.35 205.55,218.48 206.00,205.30 206.45,217.72 206.65,214.58 207.43,218.06 208.20,215.85 208.83,217.88 209.56,212.82 210.01,218.48 210.62,213.40 211.23,218.22 212.02,216.39 212.45,218.52 212.87,213.90 213.31,217.59 214.06,211.80 214.78,217.93 215.43,213.02 215.15,218.04 215.60,210.50 216.05,217.34 216.11,218.31 216.64,211.70 217.23,218.06 217.94,215.40 217.75,218.35 218.20,210.50 218.65,218.00 218.34,217.94 219.12,216.33 219.86,217.17 220.42,211.53 221.13,217.63 221.63,215.19 222.39,217.52 222.87,215.59 223.46,217.96 224.09,216.78 224.82,217.93 225.26,214.27 225.78,216.91 225.85,217.34 226.30,204.40 226.75,216.87 226.38,216.18 227.08,217.20 227.65,211.45 228.06,216.86 228.52,212.36 228.98,217.96 229.58,211.63 230.08,217.32 230.73,215.93 231.34,217.99 231.92,212.89 231.55,217.67 232.00,210.50 232.45,217.92 232.45,217.02 233.02,211.71 233.72,217.86 234.49,211.56 235.21,216.84 235.89,213.17 236.55,217.17 237.05,216.33 236.75,217.11 237.20,211.40 237.65,217.92 237.75,217.10 238.39,214.55 239.10,216.77 239.65,212.48 240.25,217.20 240.82,211.55 241.39,216.67 241.93,213.51 242.70,217.04 243.25,216.48 242.85,217.38 243.30,204.40 243.75,216.78 243.84,216.90 244.63,214.92 245.20,217.21 245.90,216.47 246.38,217.80 246.91,215.68 247.70,217.71 248.47,215.70 248.95,216.64 249.39,216.39 249.84,217.91 250.40,216.05 250.86,217.98 250.95,217.93 251.40,207.00 251.85,217.65 251.54,214.22 252.29,217.08 252.98,213.32 253.69,216.81 254.16,216.53 254.80,217.27 255.41,212.73 255.88,217.01 256.45,215.07 256.95,217.61 257.58,214.29 258.35,217.61 259.03,216.43 259.69,217.78 260.44,211.29 260.94,216.87 260.55,217.54 261.00,204.40 261.45,217.85 261.42,214.96 261.87,217.01 262.50,215.08 263.18,217.67 263.71,215.37 264.11,216.76 264.55,216.42 265.27,216.85 265.85,215.07 265.65,218.00 266.10,204.40 266.55,217.22 266.30,217.66 266.76,211.77 267.17,217.49 267.87,212.99 268.31,216.96 268.94,213.80 269.72,216.88 270.36,212.82 270.95,217.23 271.68,213.87 271.25,217.97 271.70,209.60 272.15,216.82 272.23,217.52 272.80,215.74 273.43,217.44 274.16,214.04 274.78,216.90 275.36,214.40 276.06,216.99 276.76,211.89 277.38,217.22 277.85,215.94 278.43,217.30 279.19,216.55 279.73,216.96 280.31,212.22 280.78,216.92 281.35,214.21 281.77,217.44 282.49,213.07 282.55,217.37 283.00,209.60 283.45,217.94 283.12,217.02 283.70,213.15 284.34,217.44 285.09,216.33 285.87,217.88 286.66,214.08 287.24,216.69 287.85,214.57 288.27,216.88 288.93,215.94 289.37,217.41 290.15,212.05 290.73,217.95 291.46,216.09 292.16,217.30 292.94,216.28 293.66,216.99 294.07,214.22 293.75,216.96 294.20,212.50 294.65,216.56 294.58,217.07 295.18,213.97 295.68,217.35 296.13,213.17 296.55,217.26 297.02,214.23 297.45,217.96 298.10,213.18 298.05,216.98 298.50,211.40 298.95,216.51 298.85,217.80 299.50,213.76 299.97,217.80 300.80,222.00 301.50,211.00 302.30,224.00 303.20,212.00 304.00,225.00 304.60,210.50 305.50,223.00 306.50,213.00 307.20,225.50 308.20,212.00 309.00,224.50 309.80,213.00 310.70,210.50 311.50,225.00 312.50,212.50 313.30,225.50 314.30,216.00 315.30,225.50 316.00,227.80 348.00,227.80" fill="none" stroke="#1a6e40" stroke-width="0.6" stroke-linejoin="round"/>
<polyline points="27.20,226.00 27.50,224.96 28.44,225.67 29.28,224.85 30.28,225.51 31.14,224.31 31.86,226.15 32.64,224.15 33.28,225.49 33.99,224.76 34.61,225.30 35.58,223.60 36.49,226.07 37.25,224.25 37.91,225.30 38.70,224.84 39.71,225.97 40.77,224.28 41.65,225.76 42.49,224.74 43.11,225.31 43.82,223.65 44.53,225.21 45.57,223.67 46.56,225.51 47.52,224.79 48.36,225.29 49.06,223.32 50.10,225.62 50.89,224.15 51.68,225.11 52.47,224.90 53.12,225.32 54.22,224.02 55.06,225.44 56.04,224.50 56.94,225.42 57.85,224.56 58.54,225.58 59.60,224.23 60.50,225.59 61.15,224.73 62.16,225.17 62.94,223.56 63.88,225.05 64.96,224.05 66.06,224.97 66.95,223.13 67.80,225.46 68.52,223.12 69.20,225.71 70.20,223.29 71.05,225.02 71.67,224.24 72.42,225.37 73.10,224.58 73.87,224.93 74.96,223.28 75.80,225.48 76.88,223.67 77.85,225.65 78.55,223.05 79.55,224.88 79.65,225.01 80.10,218.70 80.55,224.78 80.45,223.00 81.20,225.17 81.94,223.14 82.55,225.02 83.62,224.54 84.52,225.04 85.55,223.44 86.28,225.23 87.35,222.79 88.02,225.49 88.67,224.48 89.49,225.43 90.53,223.23 91.19,225.06 91.25,224.79 91.70,219.50 92.15,225.20 91.95,224.16 92.64,225.19 93.60,223.40 94.22,224.87 95.26,222.81 96.25,224.87 97.09,223.28 98.07,223.81 99.02,221.95 99.97,222.73 100.59,221.19 101.35,222.19 102.09,220.97 101.75,221.58 102.20,209.40 102.65,222.85 102.97,222.46 103.82,220.52 104.91,222.72 105.86,220.92 106.74,222.94 107.74,217.81 108.52,218.21 109.62,217.24 110.26,218.43 111.26,215.97 112.09,217.94 112.70,216.19 112.55,217.72 113.00,216.00 113.45,217.92 113.52,218.14 114.23,217.35 114.55,218.13 115.00,216.50 115.45,217.44 115.05,217.76 116.01,216.56 116.73,218.15 117.57,217.55 118.65,221.92 119.49,219.99 120.45,221.20 121.44,219.73 122.42,221.40 123.45,219.59 124.39,221.78 125.45,220.20 126.36,220.78 127.44,217.10 128.04,219.62 128.80,217.94 129.47,219.15 130.11,217.87 131.18,218.68 132.01,217.91 133.09,218.37 133.80,217.11 134.72,218.11 135.45,215.51 136.21,218.26 137.23,216.86 138.17,217.97 139.07,216.25 139.86,216.93 140.69,215.60 141.60,217.30 142.29,215.41 143.02,217.14 144.10,215.86 145.11,215.96 146.06,215.15 146.80,213.00 146.80,213.34 147.57,214.55 148.77,213.48 149.53,213.65 150.40,212.28 151.22,212.98 152.08,212.03 153.24,212.47 154.41,211.19 155.13,211.79 156.13,211.04 156.92,211.24 157.50,210.00 157.90,220.00 158.20,218.16 160.05,221.30 161.13,218.81 162.51,221.84 163.63,219.71 165.03,222.34 166.44,220.09 167.51,221.62 168.89,218.77 170.55,222.22 171.61,217.95 173.14,221.76 174.70,217.29 176.02,221.61 177.35,218.34 178.95,222.43 180.03,218.55 181.67,221.97 183.07,217.93 184.24,222.78 185.53,217.28 186.70,222.96 187.79,219.77 189.04,222.08 189.55,222.77 190.00,216.80 190.45,222.71 190.78,218.87 192.05,221.69 193.55,218.92 194.65,221.70 196.28,216.80 197.50,222.24 199.32,217.55 201.17,223.12 203.05,219.53 204.43,223.45 206.15,217.15 208.03,221.68 209.88,217.69 211.77,221.80 213.09,216.03 214.42,223.06 215.49,217.95 216.67,221.38 218.53,218.88 219.62,222.29 220.77,217.63 222.50,222.92 223.88,216.26 225.28,222.72 227.09,216.58 228.89,221.92 230.26,217.02 232.01,222.03 233.22,218.54 234.59,221.72 236.09,217.55 237.84,223.25 239.41,218.37 240.91,221.57 240.55,222.07 241.00,214.00 241.45,223.38 242.13,217.48 243.62,222.96 245.13,217.82 246.53,221.83 247.53,218.17 248.35,223.29 248.80,203.60 249.25,222.20 249.24,223.03 250.85,218.95 252.26,222.52 253.33,216.90 254.76,221.89 254.55,222.67 255.00,214.00 255.45,222.71 256.25,218.45 258.06,223.30 259.85,216.23 261.30,221.68 262.90,217.23 263.05,223.02 263.50,194.90 263.95,222.98 264.16,222.79 266.03,218.25 267.38,222.51 269.11,217.70 270.61,222.90 271.86,219.22 271.75,223.10 272.20,208.80 272.65,222.22 273.06,222.31 274.15,217.74 275.26,222.16 276.66,216.18 277.35,222.22 277.80,208.80 278.25,223.13 277.89,221.17 279.47,219.38 281.19,222.85 282.52,218.96 284.27,223.29 285.94,217.97 287.55,222.80 288.62,215.89 288.55,223.25 289.00,215.00 289.45,222.04 290.21,221.33 291.37,219.45 292.92,223.17 294.58,217.64 296.22,222.14 297.91,216.22 299.45,222.08 300.75,219.29 301.83,221.91 303.02,219.39 304.30,222.92 305.78,219.73 307.17,224.06 308.76,221.40 310.59,225.06 312.39,222.73 314.28,226.22 316.00,227.80" fill="none" stroke="#b848a8" stroke-width="0.6" stroke-linejoin="round"/>
</svg></body></html>
